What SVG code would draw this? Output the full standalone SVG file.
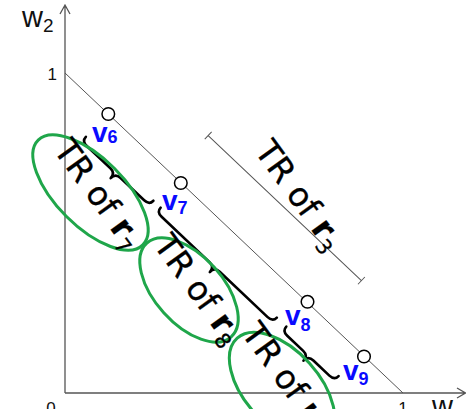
<svg xmlns="http://www.w3.org/2000/svg" width="466" height="409" viewBox="0 0 466 409">
<style>
.axis{stroke:#555;stroke-width:1.3;fill:none}
.thin{stroke:#555;stroke-width:1;fill:none}
.brace{stroke:#000;stroke-width:2.6;fill:none;stroke-linejoin:round;stroke-linecap:round}
.ell{stroke:#1fa64a;stroke-width:3;fill:none}
.vtx{fill:#fff;stroke:#000;stroke-width:1.5}
.lab{font-family:"Liberation Sans",Arial,sans-serif;fill:#111}
.tr{font-family:"DejaVu Sans",sans-serif;font-size:33px;fill:#000;stroke:#000;stroke-width:0.3}
.vl{font-family:"Liberation Sans",Arial,sans-serif;font-weight:bold;fill:#0a0aff;font-size:28px}
</style>
<rect width="466" height="409" fill="#fff"/>
<g id="axes">
<path class="axis" d="M65,393 L65,5 M60,14 L65,5 L70,14"/>
<path class="axis" d="M65,393 L465.5,393 M457,388 L465.5,393 L457,398"/>
<text class="lab" x="22" y="27" font-size="29">w<tspan font-size="19" dy="5">2</tspan></text>
<text class="lab" x="57" y="80" font-size="17" text-anchor="end">1</text>
<text class="lab" x="51" y="414" font-size="17" text-anchor="middle">0</text>
<text class="lab" x="403" y="414" font-size="17" text-anchor="middle">1</text>
<text class="lab" x="432" y="416" font-size="29">w</text>
</g>
<g id="connectors">
<path class="thin" d="M65,73 L403,393"/>
<g transform="translate(65,73) rotate(43.43)">
<path class="thin" d="M147,-53 L358,-53 M147,-58 L147,-48 M358,-58 L358,-48"/>
<path class="brace" d="M59,32 Q59,38 66,38 L98.5,38 Q105.5,38 105.5,45 Q105.5,38 112.5,38 L145,38 Q152,38 152,32"/>
<path class="brace" d="M162,32 Q162,38 169,38 L235,38 Q242,38 242,45 Q242,38 249,38 L315,38 Q322,38 322,32"/>
<path class="brace" d="M335,32 Q335,38 342,38 L364,38 Q371,38 371,45 Q371,38 378,38 L400,38 Q407,38 407,32"/>
</g>
</g>
<g id="tr-r3">
<text class="tr" transform="translate(297,197) rotate(54)" x="0" y="8" text-anchor="middle">TR of <tspan font-weight="bold">r</tspan><tspan font-size="21" dy="7">3</tspan></text>
</g>
<g id="tr-r7">
<ellipse class="ell" cx="90.5" cy="192.5" rx="74" ry="34" transform="rotate(45 90.5 192.5)"/>
<text class="tr" transform="translate(96,196) rotate(54)" x="0" y="8" text-anchor="middle">TR of <tspan font-weight="bold">r</tspan><tspan font-size="21" dy="7">7</tspan></text>
</g>
<g id="tr-r8">
<ellipse class="ell" cx="189" cy="290" rx="63" ry="34" transform="rotate(48 189 290)"/>
<text class="tr" transform="translate(196,291) rotate(54)" x="0" y="8" text-anchor="middle">TR of <tspan font-weight="bold">r</tspan><tspan font-size="21" dy="7">8</tspan></text>
</g>
<g id="tr-r9">
<ellipse class="ell" cx="282" cy="388" rx="67" ry="37" transform="rotate(48 282 388)"/>
<text class="tr" transform="translate(280,374) rotate(54)" x="0" y="8" text-anchor="middle">TR of <tspan font-weight="bold">r</tspan></text>
</g>
<g id="v6"><circle class="vtx" cx="108.3" cy="114" r="6.3"/><text class="vl" x="92" y="142">v<tspan font-size="18" dy="1">6</tspan></text></g>
<g id="v7"><circle class="vtx" cx="180.8" cy="183" r="6.3"/><text class="vl" x="162" y="210">v<tspan font-size="18" dy="4">7</tspan></text></g>
<g id="v8"><circle class="vtx" cx="307.5" cy="301.8" r="6.3"/><text class="vl" x="285" y="325">v<tspan font-size="18" dy="6">8</tspan></text></g>
<g id="v9"><circle class="vtx" cx="364" cy="356.5" r="6.3"/><text class="vl" x="343" y="380">v<tspan font-size="18" dy="5">9</tspan></text></g>
</svg>
